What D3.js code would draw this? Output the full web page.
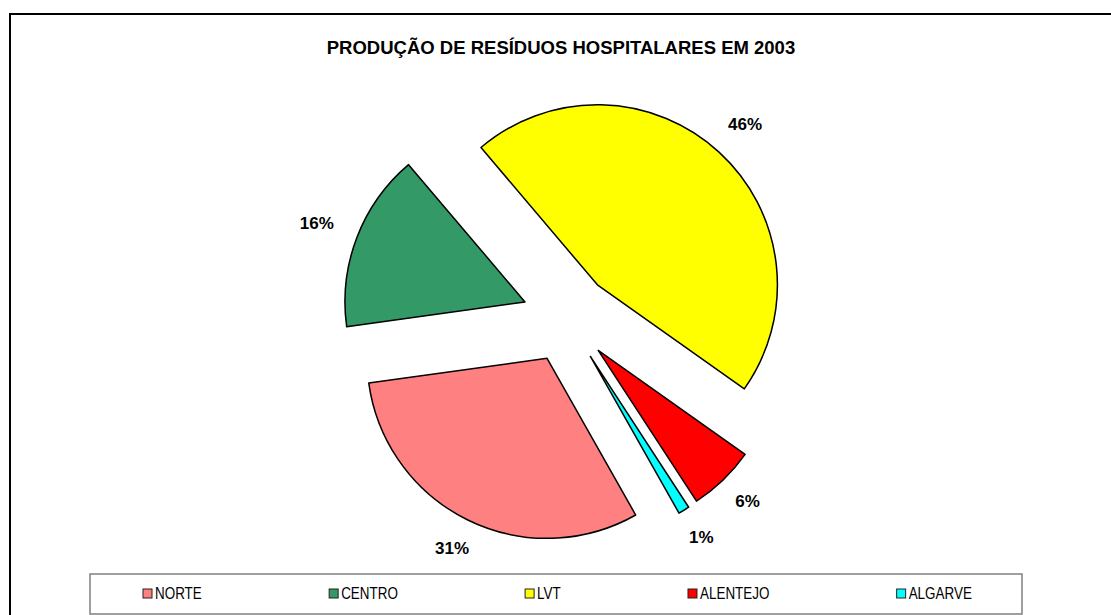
<!DOCTYPE html>
<html>
<head>
<meta charset="utf-8">
<script src="https://cdn.jsdelivr.net/npm/d3@7"></script>
<style>
  body { margin: 0; background: #fff; }
  svg { display: block; font-family: Arial, "Liberation Sans", sans-serif; }
</style>
</head>
<body>
<div id="container"></div>
<script>
/* DATA */
const regions = ["NORTE", "CENTRO", "LVT", "ALENTEJO", "ALGARVE"];
const shares = [31, 16, 46, 6, 1];
const sliceColors = ["#FF8080", "#339966", "#FFFF00", "#FF0000", "#00FFFF"];
const chartTitle = "PRODUÇÃO DE RESÍDUOS HOSPITALARES EM 2003";

/* CONSTANTS */
const width = 1111,
  height = 615;
const center = { x: 567, y: 318 },
  radius = 180,
  explode = 45,
  labelGap = 27;

const svg = d3.select("#container")
  .append("svg")
  .attr("width", width)
  .attr("height", height);

// chart frame (runs off the right and bottom edges)
svg.append("rect")
  .attr("x", 10)
  .attr("y", 14)
  .attr("width", width + 20)
  .attr("height", height + 20)
  .attr("fill", "white")
  .attr("stroke", "black")
  .attr("stroke-width", 2);

// title
svg.append("text")
  .attr("x", 561)
  .attr("y", 54)
  .attr("text-anchor", "middle")
  .style("font-weight", "bold")
  .style("font-size", "18.5px")
  .text(chartTitle);

// PIE ------------------------------------------------------
const toRad = deg => deg * Math.PI / 180;
const firstAngle = toRad(150.5);

const pie = d3.pie()
  .sort(null)
  .startAngle(firstAngle)
  .endAngle(firstAngle + 2 * Math.PI);

const arc = d3.arc()
  .innerRadius(0)
  .outerRadius(radius);

const colorScale = d3.scaleOrdinal()
  .domain(regions)
  .range(sliceColors);

const slices = pie(shares).map((p, i) => ({ ...p, region: regions[i] }));

const midAngle = d => (d.startAngle + d.endAngle) / 2;

const pieG = svg.append("g")
  .attr("transform", `translate(${center.x},${center.y})`);

pieG.selectAll("path.slice")
  .data(slices)
  .join("path")
  .attr("class", "slice")
  .attr("d", arc)
  .attr("transform", d => {
    const a = midAngle(d);
    return `translate(${Math.sin(a) * explode},${-Math.cos(a) * explode})`;
  })
  .attr("fill", d => colorScale(d.region))
  .attr("stroke", "black")
  .attr("stroke-width", 1.5)
  .attr("stroke-linejoin", "round");

const total = d3.sum(shares);

// labels sit just outside each exploded slice, box pushed away from the pie
const labels = pieG.selectAll("text.pct")
  .data(slices)
  .join("text")
  .attr("class", "pct")
  .attr("text-anchor", "middle")
  .attr("dominant-baseline", "central")
  .style("font-weight", "bold")
  .style("font-size", "17px")
  .text(d => `${Math.round(d.data / total * 100)}%`);

const labelDist = radius + explode + labelGap;
labels.each(function(d) {
  const a = midAngle(d);
  const box = this.getBBox();
  d3.select(this)
    .attr("x", Math.sin(a) * (labelDist + box.width / 2 * Math.abs(Math.sin(a))))
    .attr("y", -Math.cos(a) * (labelDist + box.height / 2 * Math.abs(Math.cos(a))) - 3);
});

// LEGEND ---------------------------------------------------
const legend = { x: 90, y: 574, w: 932, h: 40 };

svg.append("rect")
  .attr("x", legend.x)
  .attr("y", legend.y)
  .attr("width", legend.w)
  .attr("height", legend.h)
  .attr("fill", "white")
  .attr("stroke", "#808080")
  .attr("stroke-width", 1.5);

const items = svg.selectAll("g.legend-item")
  .data(regions)
  .join("g")
  .attr("class", "legend-item");

items.append("rect")
  .attr("x", 0)
  .attr("y", -5)
  .attr("width", 9)
  .attr("height", 9)
  .attr("fill", d => colorScale(d))
  .attr("stroke", "#222")
  .attr("stroke-width", 1);

// the original legend font is a condensed face, so squeeze Arial horizontally
const squeeze = 0.84;
items.append("text")
  .attr("transform", `translate(12,0) scale(${squeeze},1)`)
  .attr("dominant-baseline", "central")
  .style("font-size", "16px")
  .text(d => d);

// spread entries with equal gaps between them
const itemWidths = items.nodes().map(n => n.getBBox().width);
const rowStart = 143,
  rowEnd = 972;
const gap = (rowEnd - rowStart - d3.sum(itemWidths)) / (regions.length - 1);
let cursor = rowStart;
items.attr("transform", (d, i) => {
  const x = cursor;
  cursor += itemWidths[i] + gap;
  return `translate(${x},${legend.y + legend.h / 2})`;
});
</script>
</body>
</html>
